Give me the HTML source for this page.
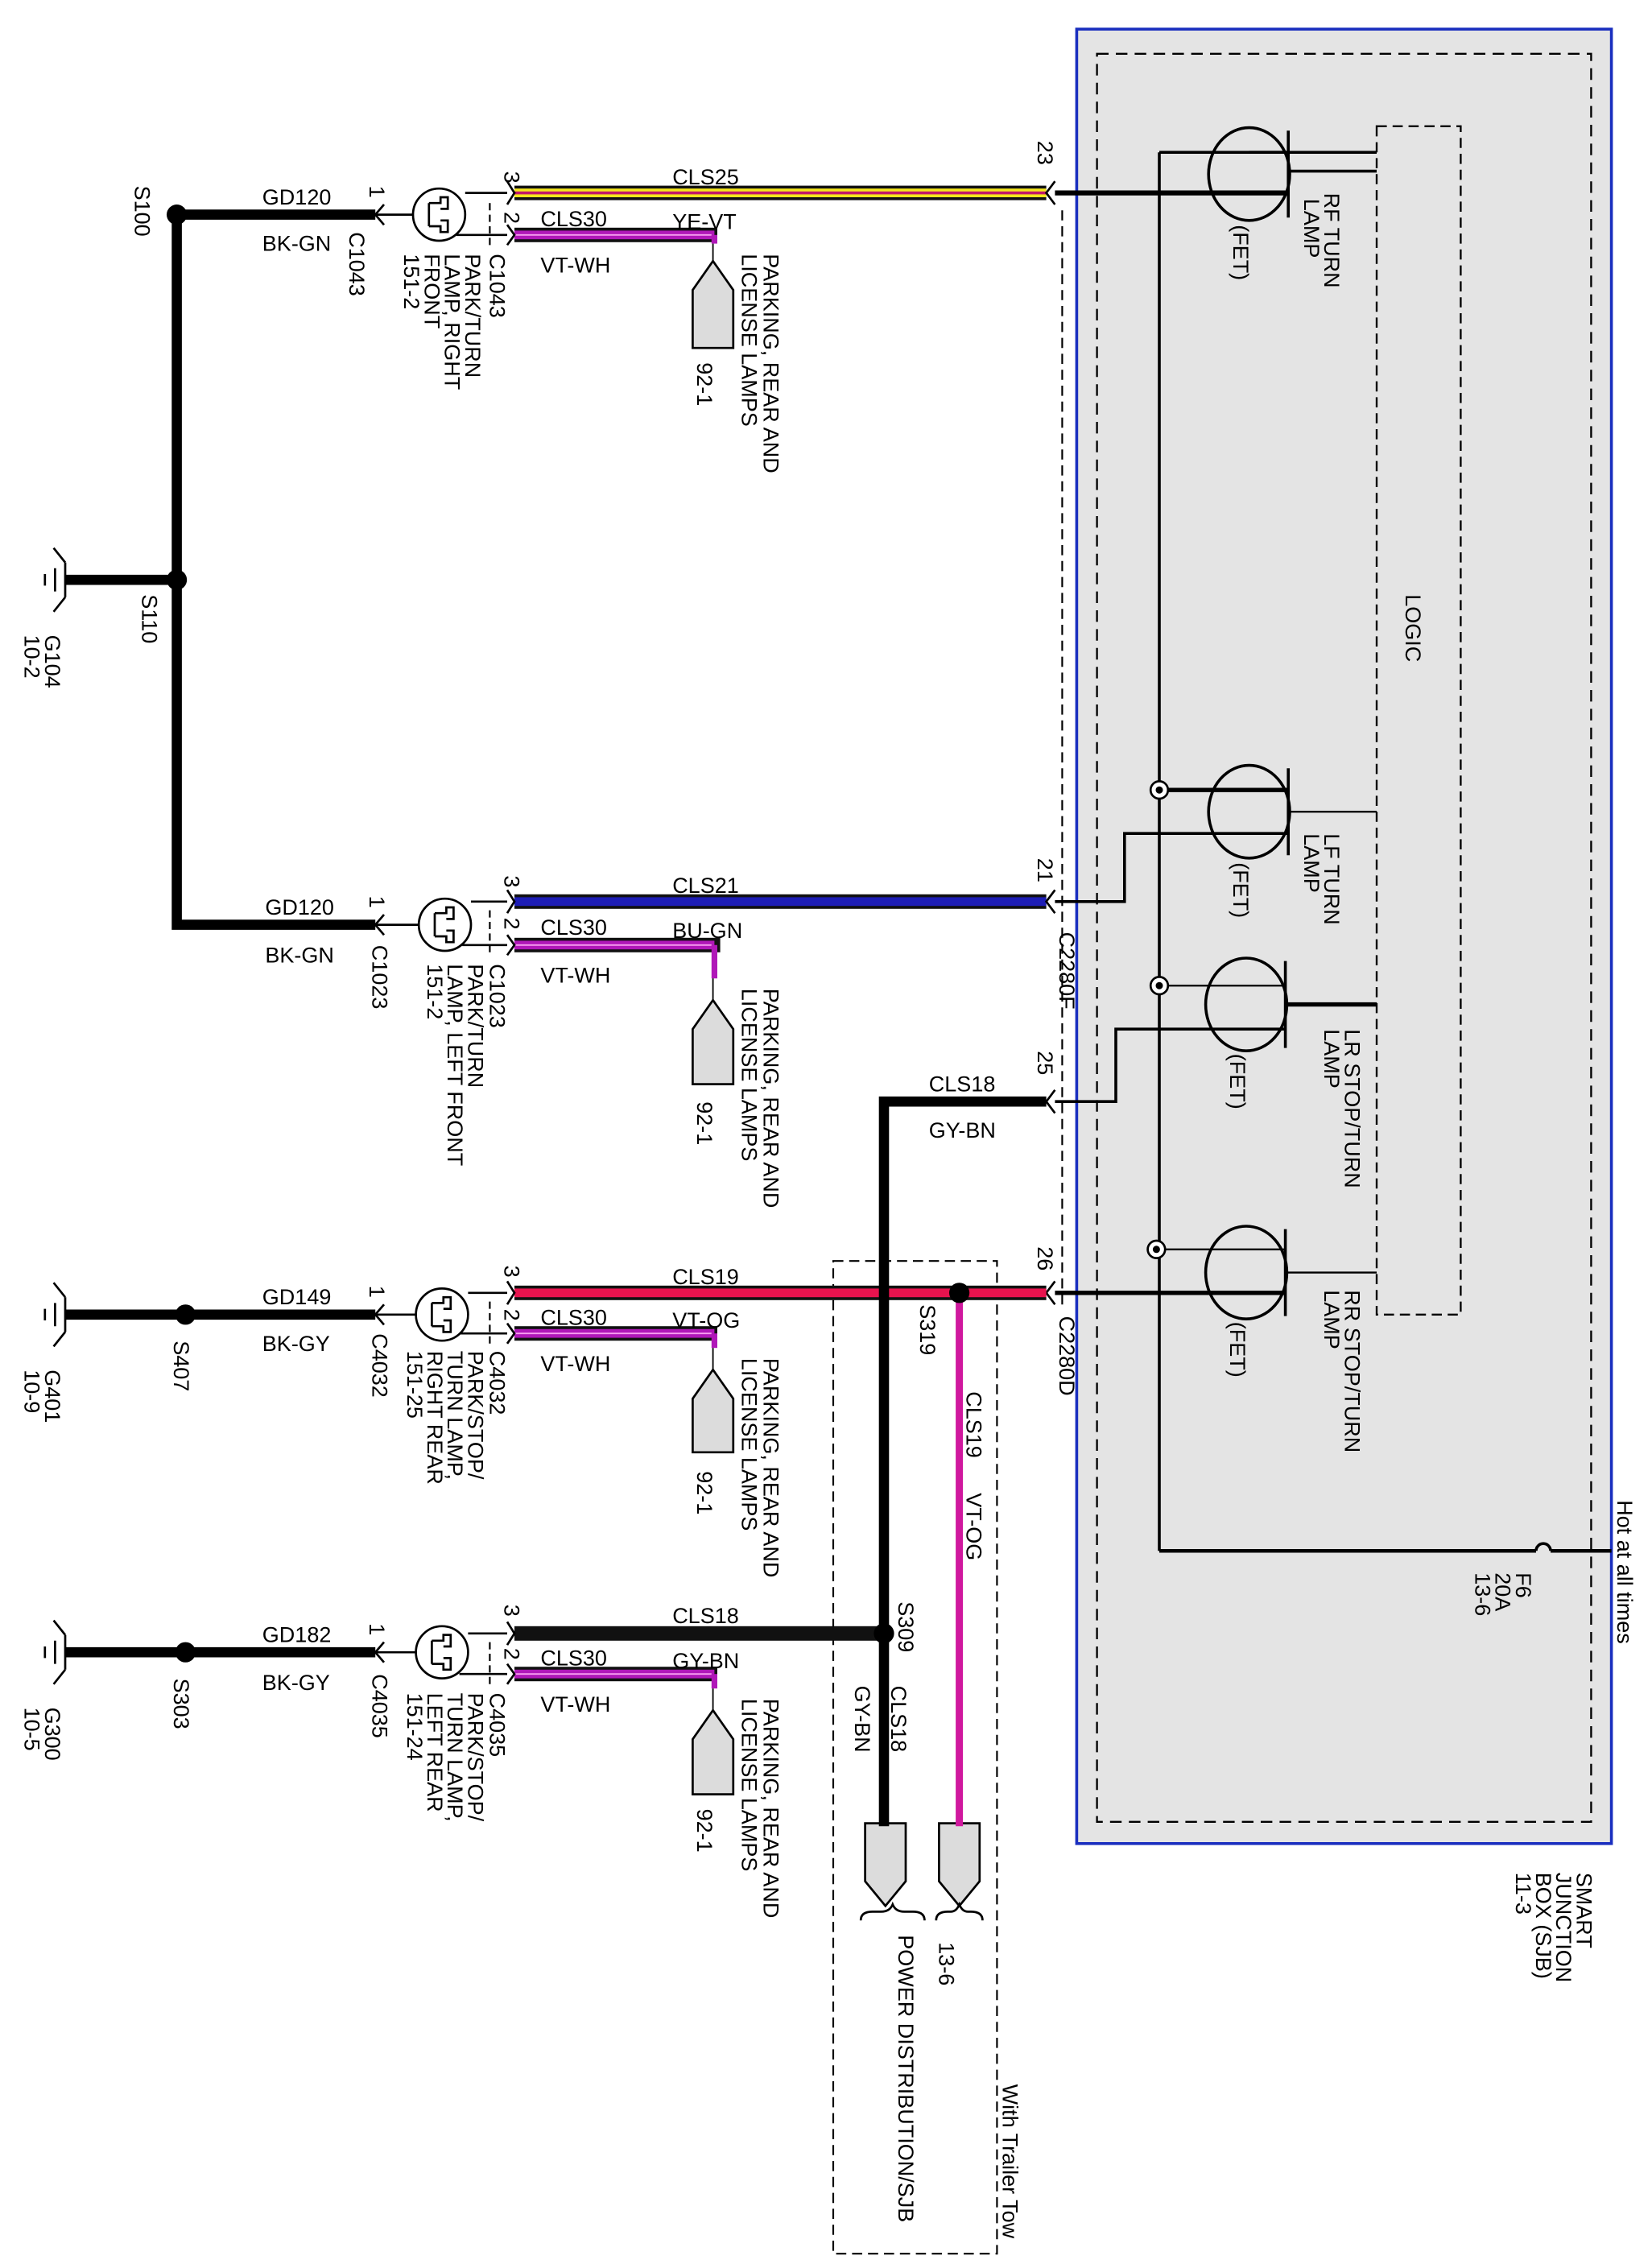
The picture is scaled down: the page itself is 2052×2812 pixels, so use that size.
<!DOCTYPE html>
<html><head><meta charset="utf-8"><style>
html,body{margin:0;padding:0;background:#fff}
svg{display:block}
text{font-family:"Liberation Sans",sans-serif;font-size:15px;fill:#000}
</style></head><body>
<svg width="2052" height="2812" viewBox="0 0 1140 1562" xmlns="http://www.w3.org/2000/svg">
<rect x="743" y="20" width="369" height="1252" fill="#e4e4e4" stroke="#1a2fbf" stroke-width="2"/>
<rect x="757" y="37" width="341" height="1220" fill="none" stroke="#000" stroke-width="1.3" stroke-dasharray="8,5"/>
<rect x="950" y="87" width="58" height="820" fill="none" stroke="#000" stroke-width="1.3" stroke-dasharray="7,4"/>
<text transform="translate(970,410) rotate(90)">LOGIC</text>
<rect x="575" y="870" width="113" height="685" fill="none" stroke="#000" stroke-width="1.2" stroke-dasharray="7,4"/>
<line x1="733" y1="145" x2="733" y2="900" stroke="#000" stroke-width="1.2" stroke-dasharray="7,4"/>

<g stroke="#000" fill="none">
<line x1="800" y1="105" x2="800" y2="1070" stroke-width="2"/>
<line x1="800" y1="105" x2="950" y2="105" stroke-width="2"/>
<line x1="800" y1="1070" x2="1060" y2="1070" stroke-width="2.5"/>
<path d="M1060 1070 a5 5 0 0 1 10 0" stroke-width="2"/>
<line x1="1070" y1="1070" x2="1112" y2="1070" stroke-width="2.5"/>
</g>
<text transform="translate(1116,1035) rotate(90)">Hot at all times</text>
<text transform="translate(1046,1085) rotate(90)">F6</text>
<text transform="translate(1032,1085) rotate(90)">20A</text>
<text transform="translate(1018,1085) rotate(90)">13-6</text>

<g stroke="#000" fill="none" stroke-width="2">
<ellipse cx="862" cy="120" rx="28" ry="32"/>
<line x1="889" y1="90" x2="889" y2="150"/><line x1="889" y1="118" x2="950" y2="118"/><line x1="728" y1="133" x2="889" y2="133" stroke-width="3.5"/><line x1="862" y1="105" x2="889" y2="105"/>
<ellipse cx="862" cy="560" rx="28" ry="32"/>
<line x1="889" y1="530" x2="889" y2="590"/><line x1="889" y1="560" x2="950" y2="560" stroke-width="1.3"/><line x1="800" y1="545" x2="889" y2="545" stroke-width="3"/>
<polyline points="728,622 776,622 776,575 889,575"/>
<ellipse cx="860" cy="693" rx="28" ry="32"/>
<line x1="887" y1="663" x2="887" y2="723"/><line x1="887" y1="693" x2="950" y2="693" stroke-width="3"/><line x1="800" y1="680" x2="887" y2="680" stroke-width="1.3"/>
<polyline points="728,760 770,760 770,710 887,710"/>
<ellipse cx="860" cy="878" rx="28" ry="32"/>
<line x1="887" y1="848" x2="887" y2="908"/><line x1="887" y1="878" x2="950" y2="878" stroke-width="1.3"/><line x1="798" y1="862" x2="887" y2="862" stroke-width="1.3"/><line x1="728" y1="892" x2="887" y2="892" stroke-width="3"/>
</g>
<g fill="#fff" stroke="#000" stroke-width="1.5">
<circle cx="800" cy="545" r="6"/><circle cx="800" cy="680" r="6"/><circle cx="798" cy="862" r="6"/>
</g>
<g fill="#000"><circle cx="800" cy="545" r="2.5"/><circle cx="800" cy="680" r="2.5"/><circle cx="798" cy="862" r="2.5"/></g>
<g>
<text transform="translate(914,133) rotate(90)">RF TURN</text><text transform="translate(900,137) rotate(90)">LAMP</text><text transform="translate(851,155) rotate(90)">(FET)</text>
<text transform="translate(914,575) rotate(90)">LF TURN</text><text transform="translate(900,575) rotate(90)">LAMP</text><text transform="translate(851,595) rotate(90)">(FET)</text>
<text transform="translate(928,710) rotate(90)">LR STOP/TURN</text><text transform="translate(914,710) rotate(90)">LAMP</text><text transform="translate(849,727) rotate(90)">(FET)</text>
<text transform="translate(928,890) rotate(90)">RR STOP/TURN</text><text transform="translate(914,890) rotate(90)">LAMP</text><text transform="translate(849,912) rotate(90)">(FET)</text>
</g>

<rect x="355" y="128" width="367" height="10" fill="#111"/>
<rect x="355" y="130" width="367" height="6" fill="#f5e71c"/>
<rect x="355" y="132" width="367" height="2" fill="#c0186a"/>
<rect x="355" y="617" width="367" height="10" fill="#111"/>
<rect x="355" y="619" width="367" height="6" fill="#1d1db5"/>
<rect x="355" y="887" width="367" height="10" fill="#111"/>
<rect x="355" y="889" width="367" height="6" fill="#e8134e"/>
<rect x="355" y="1122" width="255" height="10" fill="#111"/>
<g>
<rect x="355" y="157" width="140" height="10" fill="#111"/><rect x="355" y="159" width="138" height="6" fill="#b018b8"/><line x1="355" y1="162" x2="491" y2="162" stroke="#f7a0f0" stroke-width="1"/>
<rect x="355" y="647" width="142" height="10" fill="#111"/><rect x="355" y="649" width="138" height="6" fill="#b018b8"/><line x1="355" y1="652" x2="491" y2="652" stroke="#f7a0f0" stroke-width="1"/>
<rect x="355" y="915" width="140" height="10" fill="#111"/><rect x="355" y="917" width="138" height="6" fill="#b018b8"/><line x1="355" y1="920" x2="491" y2="920" stroke="#f7a0f0" stroke-width="1"/>
<rect x="355" y="1150" width="140" height="10" fill="#111"/><rect x="355" y="1152" width="138" height="6" fill="#b018b8"/><line x1="355" y1="1155" x2="491" y2="1155" stroke="#f7a0f0" stroke-width="1"/>
</g>
<g fill="none" stroke-width="4">
<line x1="493" y1="162" x2="493" y2="168" stroke="#b018b8"/>
<line x1="493" y1="652" x2="493" y2="675" stroke="#b018b8"/>
<line x1="493" y1="920" x2="493" y2="930" stroke="#b018b8"/>
<line x1="493" y1="1155" x2="493" y2="1165" stroke="#b018b8"/>
</g>
<g stroke="#000" stroke-width="1" fill="none">
<line x1="492" y1="168" x2="492" y2="180"/><line x1="492" y1="675" x2="492" y2="690"/><line x1="492" y1="930" x2="492" y2="945"/><line x1="492" y1="1165" x2="492" y2="1180"/>
</g>
<g fill="#dcdcdc" stroke="#000" stroke-width="1.5">
<path d="M478 240 L478 200 L492 180 L506 200 L506 240 Z"/>
<path d="M478 748 L478 710 L492 690 L506 710 L506 748 Z"/>
<path d="M478 1002 L478 965 L492 945 L506 965 L506 1002 Z"/>
<path d="M478 1238 L478 1200 L492 1180 L506 1200 L506 1238 Z"/>
<path d="M597 1258 L625 1258 L625 1298 L611 1315 L597 1298 Z"/>
<path d="M648 1258 L676 1258 L676 1298 L662 1315 L648 1298 Z"/>
</g>
<g>
<text transform="translate(527,175) rotate(90)">PARKING, REAR AND</text><text transform="translate(512,175) rotate(90)">LICENSE LAMPS</text><text transform="translate(481,250) rotate(90)">92-1</text>
<text transform="translate(527,682) rotate(90)">PARKING, REAR AND</text><text transform="translate(512,682) rotate(90)">LICENSE LAMPS</text><text transform="translate(481,760) rotate(90)">92-1</text>
<text transform="translate(527,937) rotate(90)">PARKING, REAR AND</text><text transform="translate(512,937) rotate(90)">LICENSE LAMPS</text><text transform="translate(481,1015) rotate(90)">92-1</text>
<text transform="translate(527,1172) rotate(90)">PARKING, REAR AND</text><text transform="translate(512,1172) rotate(90)">LICENSE LAMPS</text><text transform="translate(481,1248) rotate(90)">92-1</text>
</g>
<g>
<text x="464" y="127">CLS25</text>
<text x="373" y="156">CLS30</text><text x="464" y="158">YE-VT</text><text x="373" y="188">VT-WH</text>
<text x="464" y="616">CLS21</text>
<text x="373" y="645">CLS30</text><text x="464" y="647">BU-GN</text><text x="373" y="678">VT-WH</text>
<text x="464" y="886">CLS19</text>
<text x="373" y="914">CLS30</text><text x="464" y="916">VT-OG</text><text x="373" y="946">VT-WH</text>
<text x="464" y="1120">CLS18</text>
<text x="373" y="1149">CLS30</text><text x="464" y="1151">GY-BN</text><text x="373" y="1181">VT-WH</text>
<text x="641" y="753">CLS18</text><text x="641" y="785">GY-BN</text>
</g>
<g font-size="13">
<text transform="translate(348,118) rotate(90)">3</text><text transform="translate(348,146) rotate(90)">2</text>
<text transform="translate(348,604) rotate(90)">3</text><text transform="translate(348,633) rotate(90)">2</text>
<text transform="translate(348,873) rotate(90)">3</text><text transform="translate(348,903) rotate(90)">2</text>
<text transform="translate(348,1107) rotate(90)">3</text><text transform="translate(348,1137) rotate(90)">2</text>
<text transform="translate(255,128) rotate(90)">1</text><text transform="translate(255,618) rotate(90)">1</text>
<text transform="translate(255,887) rotate(90)">1</text><text transform="translate(255,1120) rotate(90)">1</text>
<text transform="translate(716,97) rotate(90)">23</text><text transform="translate(716,592) rotate(90)">21</text>
<text transform="translate(716,725) rotate(90)">25</text><text transform="translate(716,860) rotate(90)">26</text>
</g>
<g stroke="#000" fill="none" stroke-width="1.5">
<path d="M350 125 L355 133 L350 141"/><path d="M350 155 L355 162 L350 169"/>
<path d="M350 614 L355 622 L350 630"/><path d="M350 645 L355 652 L350 659"/>
<path d="M350 884 L355 892 L350 900"/><path d="M350 913 L355 920 L350 927"/>
<path d="M350 1119 L355 1127 L350 1135"/><path d="M350 1148 L355 1155 L350 1162"/>
<path d="M265 141 L259 148 L265 155"/><path d="M265 631 L259 638 L265 645"/>
<path d="M265 900 L259 907 L265 914"/><path d="M265 1133 L259 1140 L265 1147"/>
<path d="M728 125 L722 133 L728 141"/><path d="M728 614 L722 622 L728 630"/>
<path d="M728 752 L722 760 L728 768"/><path d="M728 884 L722 892 L728 900"/>
</g>
<g stroke="#000" fill="#fff" stroke-width="1.5">
<circle cx="303" cy="148" r="18"/><circle cx="307" cy="638" r="18"/><circle cx="305" cy="907" r="18"/><circle cx="305" cy="1140" r="18"/>
</g>
<g stroke="#000" fill="none" stroke-width="1.5">
<path d="M296 140 h8 v-4 h5 v8 h-5 M296 156 h8 v4 h5 v-8 h-5 M296 140 v16"/>
<path d="M300 630 h8 v-4 h5 v8 h-5 M300 646 h8 v4 h5 v-8 h-5 M300 630 v16"/>
<path d="M298 899 h8 v-4 h5 v8 h-5 M298 915 h8 v4 h5 v-8 h-5 M298 899 v16"/>
<path d="M298 1132 h8 v-4 h5 v8 h-5 M298 1148 h8 v4 h5 v-8 h-5 M298 1132 v16"/>
<line x1="321" y1="133" x2="350" y2="133"/><line x1="315" y1="162" x2="350" y2="162"/><line x1="259" y1="148" x2="285" y2="148"/>
<line x1="325" y1="622" x2="350" y2="622"/><line x1="319" y1="652" x2="350" y2="652"/><line x1="259" y1="638" x2="289" y2="638"/>
<line x1="323" y1="892" x2="350" y2="892"/><line x1="317" y1="920" x2="350" y2="920"/><line x1="259" y1="907" x2="287" y2="907"/>
<line x1="323" y1="1127" x2="350" y2="1127"/><line x1="317" y1="1155" x2="350" y2="1155"/><line x1="259" y1="1140" x2="287" y2="1140"/>
</g>
<g stroke="#000" stroke-width="1.2" stroke-dasharray="5,3">
<line x1="338" y1="140" x2="338" y2="170"/><line x1="338" y1="628" x2="338" y2="660"/><line x1="338" y1="898" x2="338" y2="928"/><line x1="338" y1="1133" x2="338" y2="1163"/>
</g>
<g>
<text transform="translate(338,175) rotate(90)">C1043</text>
<text transform="translate(321,175) rotate(90)">PARK/TURN</text><text transform="translate(307,175) rotate(90)">LAMP, RIGHT</text><text transform="translate(293,175) rotate(90)">FRONT</text><text transform="translate(279,175) rotate(90)">151-2</text>
<text transform="translate(241,160) rotate(90)">C1043</text>
<text transform="translate(338,665) rotate(90)">C1023</text>
<text transform="translate(323,665) rotate(90)">PARK/TURN</text><text transform="translate(309,665) rotate(90)">LAMP, LEFT FRONT</text><text transform="translate(295,665) rotate(90)">151-2</text>
<text transform="translate(257,652) rotate(90)">C1023</text>
<text transform="translate(338,932) rotate(90)">C4032</text>
<text transform="translate(323,932) rotate(90)">PARK/STOP/</text><text transform="translate(309,932) rotate(90)">TURN LAMP,</text><text transform="translate(295,932) rotate(90)">RIGHT REAR</text><text transform="translate(281,932) rotate(90)">151-25</text>
<text transform="translate(257,920) rotate(90)">C4032</text>
<text transform="translate(338,1168) rotate(90)">C4035</text>
<text transform="translate(323,1168) rotate(90)">PARK/STOP/</text><text transform="translate(309,1168) rotate(90)">TURN LAMP,</text><text transform="translate(295,1168) rotate(90)">LEFT REAR</text><text transform="translate(281,1168) rotate(90)">151-24</text>
<text transform="translate(257,1155) rotate(90)">C4035</text>
<text transform="translate(731,643) rotate(90)">C2280F</text>
<text transform="translate(731,908) rotate(90)">C2280D</text>
</g>

<g stroke="#000" fill="none" stroke-width="7">
<polyline points="259,148 122,148 122,638 259,638"/>
<line x1="122" y1="400" x2="45" y2="400"/>
<line x1="259" y1="907" x2="45" y2="907"/>
<line x1="259" y1="1140" x2="45" y2="1140"/>
<polyline points="722,760 610,760 610,1260"/>
</g>
<line x1="662" y1="892" x2="662" y2="1260" stroke="#d0189e" stroke-width="5"/>
<line x1="662" y1="892" x2="722" y2="892" stroke="#e8134e" stroke-width="4"/>
<g fill="#000">
<circle cx="122" cy="148" r="7"/><circle cx="122" cy="400" r="7"/><circle cx="128" cy="907" r="7"/><circle cx="128" cy="1140" r="7"/>
<circle cx="610" cy="1127" r="7"/><circle cx="662" cy="892" r="7"/>
</g>
<g stroke="#000" fill="none" stroke-width="1.5">
<path d="M45 388 v24 M38 392 v16 M31 396 v8 M45 388 l-8 -10 M45 412 l-8 10"/>
<path d="M45 895 v24 M38 899 v16 M31 903 v8 M45 895 l-8 -10 M45 919 l-8 10"/>
<path d="M45 1128 v24 M38 1132 v16 M31 1136 v8 M45 1128 l-8 -10 M45 1152 l-8 10"/>
</g>
<g>
<text x="181" y="141">GD120</text><text x="181" y="173">BK-GN</text>
<text x="183" y="631">GD120</text><text x="183" y="664">BK-GN</text>
<text x="181" y="900">GD149</text><text x="181" y="932">BK-GY</text>
<text x="181" y="1133">GD182</text><text x="181" y="1166">BK-GY</text>
<text transform="translate(93,128) rotate(90)">S100</text>
<text transform="translate(98,410) rotate(90)">S110</text>
<text transform="translate(31,438) rotate(90)">G104</text><text transform="translate(17,438) rotate(90)">10-2</text>
<text transform="translate(120,925) rotate(90)">S407</text>
<text transform="translate(31,945) rotate(90)">G401</text><text transform="translate(17,945) rotate(90)">10-9</text>
<text transform="translate(120,1158) rotate(90)">S303</text>
<text transform="translate(31,1178) rotate(90)">G300</text><text transform="translate(17,1178) rotate(90)">10-5</text>
<text transform="translate(635,900) rotate(90)">S319</text>
<text transform="translate(620,1105) rotate(90)">S309</text>
<text transform="translate(615,1163) rotate(90)">CLS18</text><text transform="translate(590,1163) rotate(90)">GY-BN</text>
<text transform="translate(667,960) rotate(90)">CLS19</text><text transform="translate(667,1030) rotate(90)">VT-OG</text>
<text transform="translate(620,1335) rotate(90)">POWER DISTRIBUTION/SJB</text>
<text transform="translate(648,1340) rotate(90)">13-6</text>
<text transform="translate(692,1438) rotate(90)">With Trailer Tow</text>
<text transform="translate(1088,1292) rotate(90)">SMART</text><text transform="translate(1074,1292) rotate(90)">JUNCTION</text><text transform="translate(1060,1292) rotate(90)">BOX (SJB)</text><text transform="translate(1046,1292) rotate(90)">11-3</text>
</g>
<g stroke="#000" fill="none" stroke-width="1.5">
<path d="M594 1325 q0 -6 8 -6 h6 q6 0 8 -5 q2 5 8 5 h6 q8 0 8 6"/>
<path d="M646 1325 q0 -6 8 -6 h2 q4 0 6 -5 q2 5 6 5 h2 q8 0 8 6"/>
</g>
</svg>
</body></html>
